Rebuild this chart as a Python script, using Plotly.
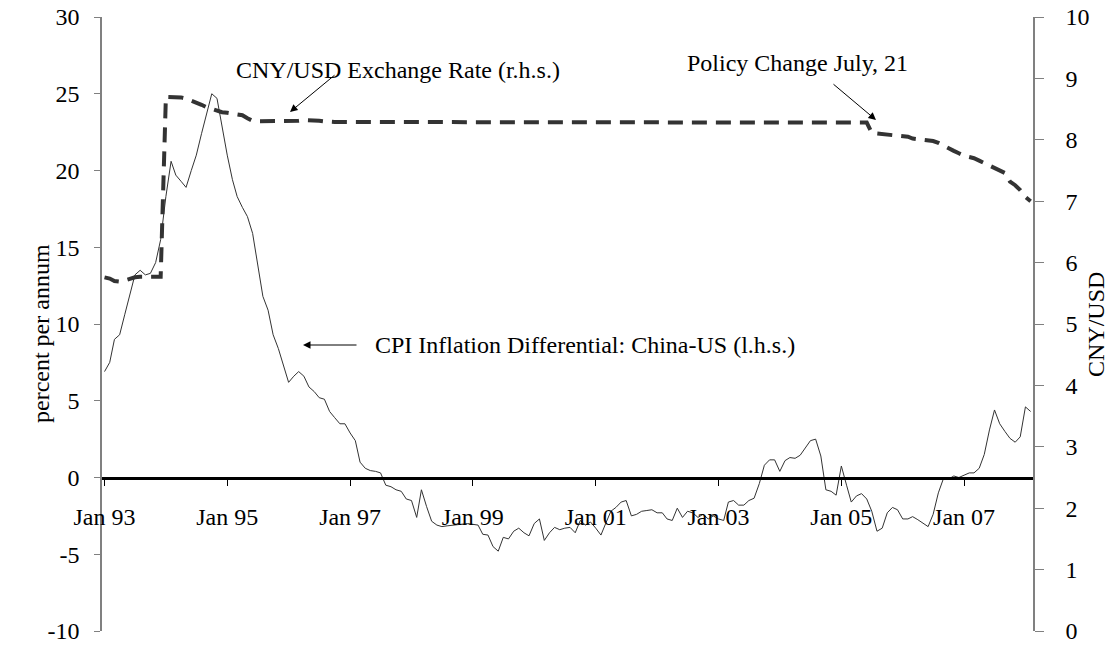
import pandas as pd
import plotly.graph_objects as go

months = pd.date_range("1993-01-01", periods=182, freq="MS")

# CPI inflation differential China - US, percent per annum (l.h.s.)
cpi_diff = [
    6.9, 7.5, 9.0, 9.3, 10.6, 12.0, 13.2, 13.5, 13.2, 13.3, 14.0, 15.5,          # 1993
    18.3, 20.6, 19.7, 19.3, 18.9, 20.0, 21.0, 22.4, 23.8, 25.0, 24.7, 22.8,      # 1994
    21.0, 19.4, 18.3, 17.6, 17.0, 15.9, 14.0, 11.8, 10.9, 9.3, 8.4, 7.3,         # 1995
    6.2, 6.6, 6.9, 6.6, 5.9, 5.6, 5.2, 5.1, 4.3, 3.9, 3.5, 3.5,                  # 1996
    2.9, 2.4, 1.0, 0.6, 0.45, 0.4, 0.3, -0.5, -0.6, -0.8, -0.9, -1.4,            # 1997
    -1.5, -2.6, -0.8, -1.9, -2.85, -3.1, -3.2, -3.15, -3.1, -3.1, -3.05, -3.0,   # 1998
    -3.05, -3.1, -3.7, -3.75, -4.5, -4.8, -3.9, -4.0, -3.5, -3.3, -3.6, -3.8,    # 1999
    -3.0, -2.7, -4.1, -3.6, -3.25, -3.4, -3.3, -3.25, -3.6, -2.8, -3.1, -2.9,    # 2000
    -3.3, -3.75, -3.0, -2.2, -1.95, -1.6, -1.5, -2.5, -2.4, -2.2, -2.15, -2.1,   # 2001
    -2.3, -2.3, -2.7, -2.8, -2.0, -2.6, -2.2, -2.3, -2.6, -2.4, -2.7, -2.5,      # 2002
    -2.7, -2.8, -1.6, -1.5, -1.8, -1.8, -1.5, -1.35, -0.4, 0.8, 1.15, 1.15,      # 2003
    0.4, 1.1, 1.3, 1.25, 1.45, 1.95, 2.4, 2.5, 1.4, -0.8, -0.9, -1.15,           # 2004
    0.75, -0.5, -1.6, -1.2, -1.05, -1.4, -2.2, -3.5, -3.3, -2.3, -1.95, -2.1,    # 2005
    -2.7, -2.7, -2.55, -2.75, -2.95, -3.2, -2.4, -1.0, -0.05, -0.1, 0.1, 0.0,    # 2006
    0.15, 0.3, 0.3, 0.6, 1.5, 3.1, 4.4, 3.5, 3.0, 2.55, 2.3, 2.65,               # 2007
    4.6, 4.3,                                                                    # 2008
]

# CNY per USD (r.h.s.)
cny_usd = [
    5.76, 5.74, 5.70, 5.69, 5.71, 5.74, 5.76, 5.77, 5.77, 5.77, 5.77, 5.77,      # 1993
    8.70, 8.70, 8.70, 8.69, 8.67, 8.64, 8.61, 8.57, 8.53, 8.50, 8.47, 8.45,      # 1994
    8.44, 8.43, 8.42, 8.40, 8.35, 8.31, 8.30, 8.30, 8.30, 8.30, 8.30, 8.30,      # 1995
    8.31, 8.31, 8.31, 8.32, 8.32, 8.32, 8.31, 8.30, 8.29, 8.29, 8.29, 8.29,      # 1996
    8.28, 8.28, 8.28, 8.28, 8.28, 8.28, 8.28, 8.28, 8.28, 8.28, 8.28, 8.28,      # 1997
    8.28, 8.28, 8.28, 8.28, 8.28, 8.28, 8.28, 8.28, 8.28, 8.28, 8.28, 8.28,      # 1998
    8.28, 8.28, 8.28, 8.28, 8.28, 8.28, 8.28, 8.28, 8.28, 8.28, 8.28, 8.28,      # 1999
    8.28, 8.28, 8.28, 8.28, 8.28, 8.28, 8.28, 8.28, 8.28, 8.28, 8.28, 8.28,      # 2000
    8.28, 8.28, 8.28, 8.28, 8.28, 8.28, 8.28, 8.28, 8.28, 8.28, 8.28, 8.28,      # 2001
    8.28, 8.28, 8.28, 8.28, 8.28, 8.28, 8.28, 8.28, 8.28, 8.28, 8.28, 8.28,      # 2002
    8.28, 8.28, 8.28, 8.28, 8.28, 8.28, 8.28, 8.28, 8.28, 8.28, 8.28, 8.28,      # 2003
    8.28, 8.28, 8.28, 8.28, 8.28, 8.28, 8.28, 8.28, 8.28, 8.28, 8.28, 8.28,      # 2004
    8.28, 8.28, 8.28, 8.28, 8.28, 8.28, 8.11, 8.10, 8.09, 8.08, 8.07, 8.07,      # 2005
    8.06, 8.05, 8.02, 8.01, 8.00, 7.99, 7.98, 7.95, 7.90, 7.86, 7.82, 7.78,      # 2006
    7.74, 7.72, 7.70, 7.66, 7.62, 7.58, 7.54, 7.50, 7.46, 7.32, 7.26, 7.18,      # 2007
    7.07, 7.00,                                                                  # 2008
]

left_ticks = [-10, -5, 0, 5, 10, 15, 20, 25, 30]
left_labels = ["-10", "-5", "0", "5", "10", "15", "20", "25", "30"]

FONT = "Liberation Serif"
INK = "#333333"
AXIS_GREY = "#808080"

fig = go.Figure()

fig.add_trace(go.Scatter(
    x=months, y=cpi_diff, mode="lines", yaxis="y",
    line=dict(color=INK, width=1),
    name="CPI Inflation Differential: China-US",
))
fig.add_trace(go.Scatter(
    x=months, y=cny_usd, mode="lines", yaxis="y2",
    line=dict(color=INK, width=4, dash="15px,9px"),
    name="CNY/USD Exchange Rate",
))

# plot area spans 102..1033 px horizontally and 17..631 px vertically
def px_x(p):
    return (p - 102) / 931.0


def px_y(p):
    return (631 - p) / 614.0


annots = [
    dict(text="CNY/USD Exchange Rate (r.h.s.)", x=px_x(398), y=px_y(55), showarrow=False),
    dict(text="Policy Change July, 21", x=px_x(797), y=px_y(48), showarrow=False),
    dict(text="CPI Inflation Differential: China-US (l.h.s.)", x=px_x(373), y=px_y(345),
         xanchor="left", showarrow=False),
    dict(text="percent per annum", x=px_x(41), y=px_y(333), textangle=-90, showarrow=False),
    dict(text="CNY/USD", x=px_x(1096), y=px_y(325), textangle=-90, showarrow=False),
    dict(text="", x=px_x(290), y=px_y(112), ax=46, ay=-38, showarrow=True),
    dict(text="", x=px_x(876), y=px_y(120), ax=-44, ay=-37, showarrow=True),
    dict(text="", x=px_x(303), y=px_y(345), ax=55, ay=0, showarrow=True),
]
for a in annots:
    a.update(xref="paper", yref="paper", font=dict(family=FONT, size=24, color="black"),
             arrowhead=2, arrowsize=1.5, arrowwidth=1, arrowcolor="black")
    if "xanchor" not in a:
        a["xanchor"] = "center"
    fig.add_annotation(**a)

fig.update_layout(
    width=1120, height=650,
    margin=dict(l=102, r=87, t=17, b=19),
    paper_bgcolor="white", plot_bgcolor="white",
    showlegend=False,
    font=dict(family=FONT, size=24, color="black"),
    xaxis=dict(
        type="date",
        range=["1992-12-17", "2008-02-15"],
        tick0="1993-01-01", dtick="M24", tickformat="%b %y",
        anchor="free", position=0.25,
        showline=True, linecolor="black", linewidth=2.5,
        ticks="outside", ticklen=7, tickwidth=1, tickcolor="black",
        ticklabelstandoff=10,
        showgrid=False, zeroline=False, automargin=False,
    ),
    yaxis=dict(
        range=[-10, 30], tickvals=left_ticks, ticktext=left_labels,
        showline=True, linecolor=AXIS_GREY, linewidth=1.5,
        ticks="outside", ticklen=6, tickcolor=AXIS_GREY,
        ticklabelstandoff=10, ticklabeloverflow="allow",
        showgrid=False, zeroline=False, automargin=False,
    ),
    yaxis2=dict(
        range=[0, 10], dtick=1, overlaying="y", side="right",
        showline=True, linecolor=AXIS_GREY, linewidth=1.5,
        ticks="outside", ticklen=9, tickcolor=AXIS_GREY,
        ticklabelstandoff=17, ticklabeloverflow="allow",
        showgrid=False, zeroline=False, automargin=False,
    ),
    # inner half of the crossing ticks on the right axis
    yaxis3=dict(
        range=[0, 10], dtick=1, overlaying="y", side="right",
        showline=False, ticks="inside", ticklen=5, tickcolor=AXIS_GREY,
        showticklabels=False, showgrid=False, zeroline=False, automargin=False,
    ),
)

# drop the browser's default 8px body margin so the figure fills the window
fig.write_html(
    "out.html",
    config={"displayModeBar": False},
    post_script="document.body.style.margin = '0';",
)
